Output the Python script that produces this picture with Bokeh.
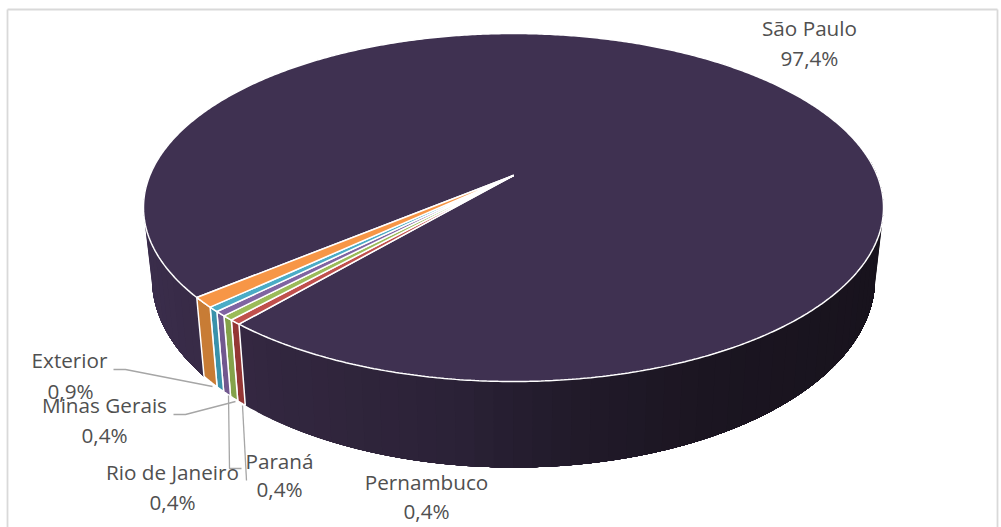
import math
from bokeh.plotting import figure
from bokeh.embed import file_html
from bokeh.resources import INLINE
from bokeh.core.properties import value

names = ["São Paulo", "Pernambuco", "Paraná", "Rio de Janeiro", "Minas Gerais", "Exterior"]
shares = [97.3, 0.44, 0.44, 0.44, 0.44, 0.94]
pct_labels = ["97,4%", "0,4%", "0,4%", "0,4%", "0,4%", "0,9%"]
top_colors = ["#3F3151", "#C0504D", "#9BBB59", "#8064A2", "#4BACC6", "#F79646"]
side_colors = ["#2E2439", "#953735", "#84A24A", "#71588F", "#3A92AB", "#C87C35"]
name_xy = [(809, 29), (426, 483), (279, 462), (172, 473), (104, 406), (69, 361)]
pct_xy = [(809, 59), (426, 512), (279, 490), (172, 503), (104, 436), (70, 392)]
leaders = [
    ([113, 125, 212], [369, 369, 386]),
    ([173, 185, 235], [414, 414, 401]),
    ([241, 229, 228], [468, 468, 395]),
    ([246, 246, 242], [480, 480, 405]),
]
side_stops = [(143, (58, 45, 75)), (215, (54, 41, 68)), (260, (50, 38, 63)), (330, (48, 37, 60)),
              (450, (42, 33, 54)), (560, (33, 26, 42)), (700, (27, 21, 33)), (883, (24, 19, 29))]

XC, YC, SY, RX, K = 513.0, 175.0, 168.1, 363.7, 0.184
START_DEG = 39.8
BX, BY_S, BY_O = 0.977, 1.084, 54.0

def top(phi):
    r = math.radians(phi)
    u, v = -math.cos(r), math.sin(r)
    d = 1 - K * v
    return XC + RX * u / d, YC + SY * v / d

def bottom(phi):
    x, y = top(phi)
    return XC + (x - XC) * BX, BY_S * y + BY_O

def arc(a, b, step=0.5):
    n = max(2, int(abs(b - a) / step) + 1)
    return [a + (b - a) * i / (n - 1) for i in range(n)]

def shade(x):
    for (x0, c0), (x1, c1) in zip(side_stops, side_stops[1:]):
        if x <= x1:
            f = max(0, (x - x0) / (x1 - x0))
            return "#%02x%02x%02x" % tuple(round(a + (b - a) * f) for a, b in zip(c0, c1))
    return "#%02x%02x%02x" % side_stops[-1][1]

p = figure(width=1001, height=527, x_range=(0, 1001), y_range=(527, 0), output_backend="svg",
           toolbar_location=None, min_border=0)
p.axis.visible = False
p.grid.visible = False
p.outline_line_color = None
p.background_fill_color = "white"
p.border_fill_color = "white"

p.multi_line([[7, 7], [7, 997], [997, 997]], [[527, 9], [9, 9], [9, 527]], line_color="#D9D9D9", line_width=1.8)

total = sum(shares)
spans = []
a = START_DEG
for s in shares:
    b = a - s / total * 360
    spans.append((a, b))
    a = b

sa, sb = spans[0]
for lo, hi in [(-6.0, sa), (sb + 360, 186.0)]:
    starts = arc(lo, hi, 2.5)[:-1]
    for a0 in starts:
        angs = arc(a0, hi, 0.5)
        t = [top(q) for q in angs]
        bt = [bottom(q) for q in angs]
        pts = t + bt[::-1]
        c = shade(t[0][0])
        p.patch([q[0] for q in pts], [q[1] for q in pts], fill_color=c, line_color=None)

for (a0, a1), col in zip(spans[1:], side_colors[1:]):
    a0 += 360 if a0 < 0 else 0
    a1 += 360 if a1 < 0 else 0
    angs = arc(a0, a1, 0.2)
    t = [top(q) for q in angs]
    bt = [bottom(q) for q in angs]
    pts = t + bt[::-1]
    p.patch([q[0] for q in pts], [q[1] for q in pts], fill_color=col, line_color="white", line_width=1.5)

for (a0, a1), col in zip(spans, top_colors):
    pts = [(XC, YC)] + [top(q) for q in arc(a0, a1)]
    p.patch([q[0] for q in pts], [q[1] for q in pts], fill_color=col, line_color="white", line_width=1.5)

for lx, ly in leaders:
    p.line(lx, ly, line_color="#A6A6A6", line_width=1.3)

for n, l, (nx, ny), (lx, ly) in zip(names, pct_labels, name_xy, pct_xy):
    for txt, x, y in [(n, nx, ny), (l, lx, ly)]:
        p.text([x], [y], text=[txt], text_font=value("Open Sans"), text_font_size="20.7px", text_color="#505050",
               text_align="center", text_baseline="middle", y_offset=-2)

open("out.html", "w").write(file_html(p, INLINE))
